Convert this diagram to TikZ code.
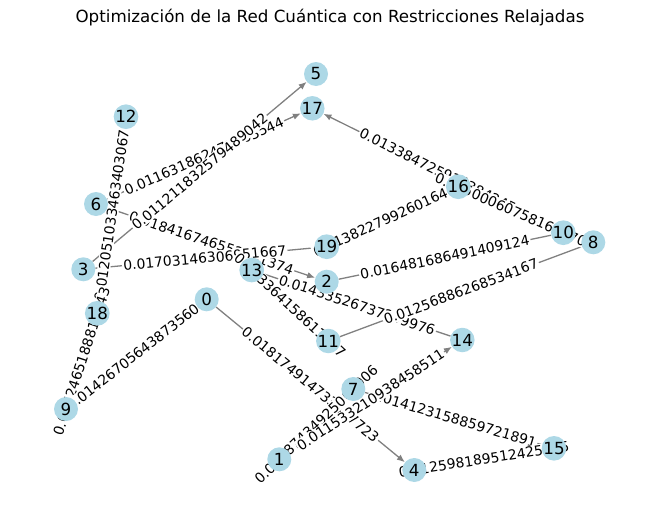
\documentclass[tikz,border=0pt]{standalone}
\usepackage{fontspec}
\setmainfont{DejaVu Sans}
\usetikzlibrary{arrows.meta}
\pgfdeclarelayer{edges}
\pgfsetlayers{edges,main}
\definecolor{nodeblue}{HTML}{ADD8E6}
\tikzset{
  qnode/.style={
    circle,fill=nodeblue,minimum size=24pt,inner sep=0pt,
    font=\fontsize{16.7}{17}\selectfont
  },
  link/.style={draw=gray,line width=1.3pt},
  dlink/.style={link,-{Latex[length=8pt,width=6.5pt]}},
  wlabel/.style={
    midway,sloped,fill=white,inner sep=1.2pt,
    font=\fontsize{13.9}{14}\selectfont
  }
}

\begin{document}
\begin{tikzpicture}[x=1pt,y=-1pt]
\useasboundingbox (0,0) rectangle (660,522);
\node[font=\fontsize{16.7}{17}\selectfont] (title) at (330,18) {Optimización de la Red Cuántica con Restricciones Relajadas};
% nodes
\node[qnode] (n0) at (206.7,299.3) {0};
\node[qnode] (n1) at (279.3,459.3) {1};
\node[qnode] (n2) at (326.7,281.7) {2};
\node[qnode] (n3) at (83.3,269.3) {3};
\node[qnode] (n4) at (414.3,470) {4};
\node[qnode] (n5) at (316,74) {5};
\node[qnode] (n6) at (96,204) {6};
\node[qnode] (n7) at (353.3,389) {7};
\node[qnode] (n8) at (593.3,242.3) {8};
\node[qnode] (n9) at (66,409) {9};
\node[qnode] (n10) at (563.3,232.7) {10};
\node[qnode] (n11) at (328.3,341) {11};
\node[qnode] (n12) at (126,116.7) {12};
\node[qnode] (n13) at (251.7,270) {13};
\node[qnode] (n14) at (462.3,340) {14};
\node[qnode] (n15) at (554,448.3) {15};
\node[qnode] (n16) at (458.3,186.7) {16};
\node[qnode] (n17) at (312.3,108.3) {17};
\node[qnode] (n18) at (97.3,313.3) {18};
\node[qnode] (n19) at (326.7,246.7) {19};
\begin{pgfonlayer}{edges}
% links
\draw[link] (n18) -- (n12);
\draw[link] (n9) -- (n18);
\draw[link] (n9) -- (n0);
\draw[dlink] (n6) -- (n17);
\draw[dlink] (n6) -- (n2);
\draw[dlink] (n3) -- (n5);
\draw[link] (n3) -- (n19);
\draw[link] (n13) -- (n11);
\draw[link] (n13) -- (n14);
\draw[link] (n11) -- (n8);
\draw[link] (n2) -- (n10);
\draw[link] (n19) -- (n16);
\draw[dlink] (n10) -- (n17);
\draw[link] (n16) -- (n10);
\draw[dlink] (n0) -- (n4);
\draw[link] (n1) -- (n7);
\draw[link] (n7) -- (n15);
\draw[dlink] (n1) -- (n14);
\draw[link] (n4) -- (n15);
% weights
\path (n18) -- node[wlabel] {0.012051033463403067} (n12);
\path (n9) -- node[wlabel] {0.0172465188812943} (n18);
\path (n9) -- node[wlabel] {0.014267056438735604} (n0);
\path (n6) -- node[wlabel] {0.011631862471903544} (n17);
\path (n6) -- node[wlabel] {0.018416746552701374} (n2);
\path (n3) -- node[wlabel] {0.011211832579489042} (n5);
\path (n3) -- node[wlabel] {0.01703146306951667} (n19);
\path (n13) -- node[wlabel] {0.013364158611907} (n11);
\path (n13) -- node[wlabel] {0.01433526737299976} (n14);
\path (n11) -- node[wlabel] {0.01256886268534167} (n8);
\path (n2) -- node[wlabel] {0.016481686491409124} (n10);
\path (n19) -- node[wlabel] {0.013822799260164415} (n16);
\path (n10) -- node[wlabel] {0.013384725916384245} (n17);
\path (n16) -- node[wlabel] {0.01500060758165170} (n10);
\path (n0) -- node[wlabel] {0.018174914733417723} (n4);
\path (n1) -- node[wlabel] {0.01087434925001006} (n7);
\path (n7) -- node[wlabel] {0.014123158859721891} (n15);
\path (n1) -- node[wlabel] {0.011533210938458511} (n14);
\path (n4) -- node[wlabel] {0.012598189512425265} (n15);
\end{pgfonlayer}
\end{tikzpicture}
\end{document}
